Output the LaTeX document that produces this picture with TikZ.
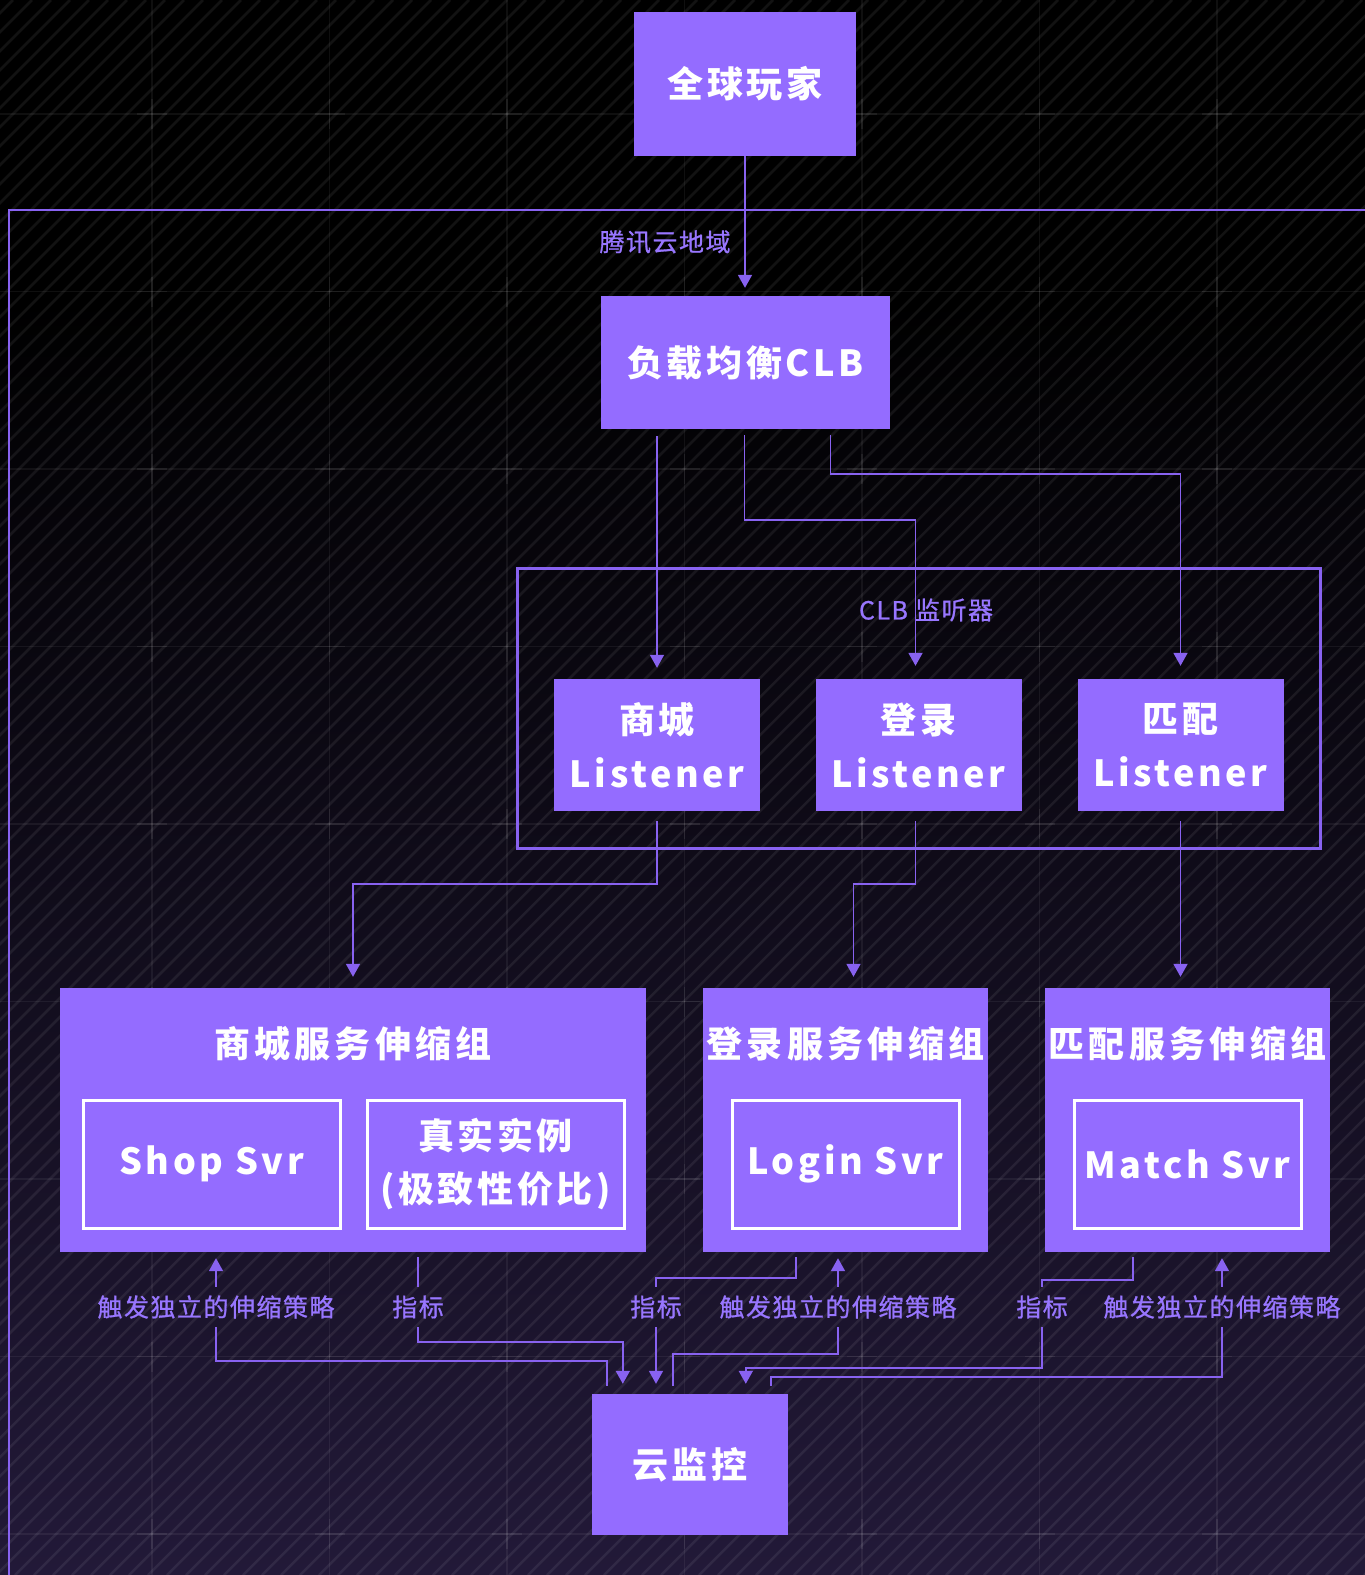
\documentclass[tikz,border=0pt]{standalone}
\usepackage{fontspec}
\setmainfont{Noto Sans CJK SC}
\newfontfamily\bxfont{Noto Sans CJK SC}[LetterSpace=10]
\newfontfamily\ttlfont{Noto Sans CJK SC}[LetterSpace=12]
\newfontfamily\lbfont{Noto Sans CJK SC}[LetterSpace=6,FakeBold=0.8]
\usetikzlibrary{arrows.meta,calc}
\definecolor{boxc}{RGB}{148,108,255}
\definecolor{linec}{RGB}{136,98,240}
\definecolor{lblc}{RGB}{152,118,255}
\definecolor{bgbot}{RGB}{34,25,56}
\begin{document}
\begin{tikzpicture}[x=1pt,y=-1pt,
  box/.style={fill=boxc, text=white, font=\fontsize{36}{54}\bxfont\bfseries, align=center, inner sep=0pt},
  inbox/.style={draw=white, line width=3pt, text=white, font=\fontsize{36}{53}\bxfont\bfseries, align=center, inner sep=0pt},
  gtitle/.style={text=white, font=\fontsize{36}{40}\ttlfont\bfseries, inner sep=0pt},
  lbl/.style={text=lblc, font=\fontsize{25}{28}\lbfont, inner sep=0pt, minimum height=40pt},
  conn/.style={draw=linec, line width=1.8pt},
  arr/.style={conn, -{Triangle[width=14pt,length=13pt]}},
]
\useasboundingbox (0,0) rectangle (1365,1575);
\begin{scope}
\clip (0,0) rectangle (1365,1575);
% background
\fill[black] (0,0) rectangle (1365,301);
\shade[top color=black, bottom color=bgbot] (0,300) rectangle (1365,1575);
\foreach \i in {-1600,-1581,...,1380}
  \draw[white, opacity=0.07, line width=2.5pt] (\i,1575) -- ++(1575,-1575);
\foreach \gx in {152,329.5,507,684.5,862,1039.5,1217}
  \draw[white, opacity=0.06, line width=1.2pt] (\gx,0) -- (\gx,1575);
\foreach \gy in {114,291.5,469,646.5,824,1001.5,1179,1356.5,1534}
  \draw[white, opacity=0.06, line width=1.2pt] (0,\gy) -- (1365,\gy);
\foreach \gx in {152,329.5,507,684.5,862,1039.5,1217}
  \foreach \gy in {114,291.5,469,646.5,824,1001.5,1179,1356.5,1534}{
    \draw[white, opacity=0.07, line width=1.6pt] (\gx-15,\gy) -- (\gx+15,\gy);
    \draw[white, opacity=0.07, line width=1.6pt] (\gx,\gy-15) -- (\gx,\gy+15);
  }
% region
\draw[linec, line width=2pt] (9,210) rectangle (1420,1640);
\end{scope}

\node[lbl] (reg) at (665,242) {腾讯云地域};

% listener container
\node[draw=linec, line width=3pt, minimum width=803pt, minimum height=280pt, inner sep=0pt] (lis) at (918.5,708) {};
\node[lbl] (lisl) at (926,610) {CLB 监听器};

% main boxes
\node[box, minimum width=222pt, minimum height=144pt] (players) at (745,84) {全球玩家};
\node[box, minimum width=289pt, minimum height=133pt] (clb) at (745.5,362.5) {负载均衡CLB};
\node[box, minimum width=206pt, minimum height=132pt] (l1) at (657,745) {商城\\Listener};
\node[box, minimum width=206pt, minimum height=132pt] (l2) at (918.5,745) {登录\\Listener};
\node[box, minimum width=206pt, minimum height=132pt] (l3) at (1180.5,745) {匹配\\Listener};

\node[box, minimum width=586pt, minimum height=264pt] (g1) at (353,1120) {};
\node[box, minimum width=285pt, minimum height=264pt] (g2) at (845.5,1120) {};
\node[box, minimum width=285pt, minimum height=264pt] (g3) at (1187.5,1120) {};
\node[gtitle] (g1t) at (353,1044) {商城服务伸缩组};
\node[gtitle] (g2t) at (845.5,1044) {登录服务伸缩组};
\node[gtitle] (g3t) at (1187.5,1044) {匹配服务伸缩组};
\node[inbox, minimum width=257pt, minimum height=128pt] (shop) at (211.5,1164) {Shop Svr};
\node[inbox, minimum width=257pt, minimum height=128pt, text width=251pt] (real) at (495.5,1164) {真实实例\\(极致性价比)};
\node[inbox, minimum width=227pt, minimum height=128pt] (login) at (845.5,1164) {Login Svr};
\node[inbox, minimum width=227pt, minimum height=128pt] (match) at (1187.5,1164) {Match Svr};

\node[box, minimum width=196pt, minimum height=141pt] (mon) at (690,1464.5) {云监控};

% top connectors
\draw[arr, shorten >=8pt] (players.south) -- (players.south |- clb.north);
\draw[arr, shorten <=7pt, shorten >=11pt] (clb.south -| l1.north) -- (l1.north);
\draw[arr, shorten <=6pt, shorten >=13pt] ([xshift=-1pt]clb.south) -- ++(0,91) -| ([xshift=-3pt]l2.north);
\draw[arr, shorten <=6pt, shorten >=13pt] ([xshift=85pt]clb.south) -- ++(0,45) -| (l3.north);

% listeners to groups
\draw[arr, shorten <=10pt, shorten >=11pt] (l1.south) -- ++(0,73) -| (g1.north);
\draw[arr, shorten <=10pt, shorten >=11pt] ([xshift=-3pt]l2.south) -- ++(0,73) -| ([xshift=8pt]g2.north);
\draw[arr, shorten <=10pt, shorten >=11pt] (l3.south) -- (l3.south |- g3.north);

% bottom labels
\node[lbl] (tA) at (216,1307) {触发独立的伸缩策略};
\node[lbl] (mA) at (418,1307) {指标};
\node[lbl] (mB) at (656,1307) {指标};
\node[lbl] (tB) at (838,1307) {触发独立的伸缩策略};
\node[lbl] (mC) at (1042,1307) {指标};
\node[lbl] (tC) at (1222,1307) {触发独立的伸缩策略};

% shop group
\draw[arr, shorten >=6pt] (tA.north) -- (tA.north |- g1.south);
\draw[conn, shorten <=8pt] ([xshift=15pt]mon.north west) -- ++(0,-33) -| (tA.south);
\draw[conn, shorten <=5pt] (mA.north |- g1.south) -- (mA.north);
\draw[arr, shorten >=10pt] (mA.south) -- ++(0,15) -| ([xshift=31pt]mon.north west);

% login group
\draw[conn, shorten <=5pt] ([xshift=93pt]g2.south west) -- ++(0,26) -| (mB.north);
\draw[arr, shorten >=10pt] (mB.south) -- (mB.south |- mon.north);
\draw[arr, shorten >=6pt] (tB.north) -- (tB.north |- g2.south);
\draw[conn, shorten <=8pt] ([xshift=81pt]mon.north west) -- ++(0,-40) -| (tB.south);

% match group
\draw[conn, shorten <=5pt] ([xshift=88pt]g3.south west) -- ++(0,28) -| (mC.north);
\draw[arr, shorten >=10pt] (mC.south) -- ++(0,41) -| ([xshift=154pt]mon.north west);
\draw[arr, shorten >=6pt] (tC.north) -- (tC.north |- g3.south);
\draw[conn, shorten <=8pt] ([xshift=179pt]mon.north west) -- ++(0,-17) -| (tC.south);
\end{tikzpicture}
\end{document}
